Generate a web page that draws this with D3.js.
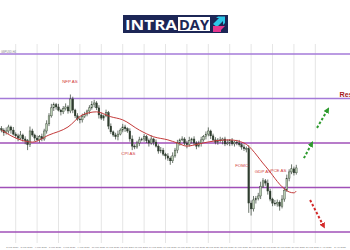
<!DOCTYPE html>
<html>
<head>
<meta charset="utf-8">
<script src="https://d3js.org/d3.v7.min.js"></script>
<style>
  body { margin: 0; background: #fff; }
  svg { display: block; }
</style>
</head>
<body>
<script>
// H4 candles, open = previous close
var firstOpen = 1.3832;
var closes = [1.3829,1.3823,1.3827,1.3836,1.3829,1.3820,1.3816,1.3811,1.3818,1.3809,
  1.3805,1.3796,1.3827,1.3818,1.3811,1.3807,1.3814,1.3809,1.3827,1.3843,
  1.3861,1.3879,1.3886,1.3881,1.3874,1.3870,1.3877,1.3881,1.3872,1.3899,
  1.3874,1.3861,1.3854,1.3852,1.3859,1.3865,1.3872,1.3879,1.3886,1.3890,
  1.3879,1.3863,1.3856,1.3861,1.3868,1.3838,1.3825,1.3818,1.3814,1.3820,
  1.3829,1.3836,1.3832,1.3827,1.3809,1.3793,1.3791,1.3800,1.3807,1.3809,
  1.3814,1.3805,1.3800,1.3809,1.3802,1.3793,1.3782,1.3784,1.3775,1.3771,
  1.3766,1.3760,1.3771,1.3784,1.3800,1.3807,1.3809,1.3800,1.3796,1.3805,
  1.3809,1.3800,1.3793,1.3800,1.3807,1.3814,1.3820,1.3827,1.3816,1.3807,
  1.3802,1.3807,1.3805,1.3809,1.3798,1.3800,1.3805,1.3798,1.3802,1.3800,
  1.3796,1.3791,1.3787,1.3787,1.3665,1.3652,1.3672,1.3676,1.3681,1.3703,
  1.3715,1.3710,1.3692,1.3674,1.3665,1.3663,1.3667,1.3658,1.3674,1.3694,
  1.3721,1.3735,1.3742,1.3733,1.3744];
// wick lengths in pips above / below the body
var wickUp = [6,4,8,5,3,7,4,5,9,3, 6,4,10,5,3,6,4,7,5,8, 6,9,5,4,7,3,6,8,4,10,
  5,3,6,4,7,5,3,6,8,7, 4,6,5,3,7,4,6,3,5,8, 4,7,5,3,6,8,4,5,7,3,
  6,4,5,8,3,6,4,7,5,3, 6,4,8,5,7,3,6,4,5,9, 3,6,4,5,7,4,6,8,3,5,
  6,4,7,3,5,8,4,6,3,5, 7,4,6,5,8,6,9,5,7,10, 6,4,8,5,3,7,6,4,9,5, 8,6,10,5,7];
var wickDn = [5,7,4,6,8,3,5,7,4,6, 8,12,5,4,7,3,6,5,4,6, 5,4,7,6,3,8,5,4,6,5,
  7,5,4,8,6,3,5,7,4,6, 5,8,4,6,3,7,5,4,6,8, 3,5,7,4,6,9,5,4,7,3,
  6,5,8,4,7,3,6,5,4,8, 6,9,5,4,7,6,3,5,8,4, 6,5,7,3,8,4,6,5,7,3,
  5,6,4,8,5,3,7,4,6,5, 4,6,5,8,22,15,6,8,5,7, 4,6,8,5,7,4,6,10,5,6, 4,7,5,6,4];

// moving average, sampled at candle indexes
var maIdx = [0,8,13,20,28,34,40,46,51,58,64,70,74,78,83,90,96,102,111,119,121,123,124];
var maVal = [1.3829,1.3807,1.3802,1.3818,1.3836,1.3863,1.3870,1.3859,1.3852,1.3829,1.3814,1.3807,
  1.3800,1.3793,1.3798,1.3805,1.3807,1.3800,1.3748,1.3697,1.3690,1.3688,1.3692];

// horizontal levels
var levels = [1.40, 1.39, 1.38, 1.37, 1.36];

// news events
var eventNames = ["NFP AS", "CPI AS", "FOMC", "GDP AS", "PCE AS"];
var eventIdx = [28.8, 53.4, 101, 110, 116.5];
var eventPrice = [1.3934, 1.3774, 1.3745, 1.3732, 1.3734];

// projected moves
var arrowFrom = [[132.7, 1.3834], [127.2, 1.3766], [129.8, 1.3672]];
var arrowTo = [[136.9, 1.3872], [130.2, 1.3796], [135.2, 1.3616]];
var arrowColor = ["#2e9b2e", "#2e9b2e", "#d42a2a"];

// time axis
var gridEvery = 9, gridStart = 6, gridEnd = 132;
var dateLabels = ["2 Mar 2021","3 Mar 2021","4 Mar 2021","5 Mar 2021","8 Mar 2021","9 Mar 2021",
  "10 Mar 2021","11 Mar 2021","12 Mar 2021","15 Mar 2021","16 Mar 2021","17 Mar 2021","18 Mar 2021",
  "19 Mar 2021","22 Mar 2021","23 Mar 2021","24 Mar 2021","25 Mar 2021","26 Mar 2021","29 Mar 2021",
  "30 Mar 2021","31 Mar 2021","1 Apr 2021","2 Apr 2021"];

var width = 350, height = 250;
var svg = d3.select("body").append("svg")
    .attr("width", width)
    .attr("height", height);

var x = d3.scaleLinear().domain([0, 124]).range([1.43, 1.43 + 124 * 2.378]);
var y = d3.scaleLinear().domain([1.36, 1.40]).range([232, 54]);

// ---- logo ----
var logo = svg.append("g");
logo.append("rect").attr("x", 123).attr("y", 15).attr("width", 105).attr("height", 18).attr("fill", "#1c2656");
logo.append("rect").attr("x", 178).attr("y", 17).attr("width", 32).attr("height", 14).attr("fill", "#fff");
logo.append("text").attr("x", 125).attr("y", 29.5).text("INTRA")
    .attr("font-family", "Open Sans, DejaVu Sans, sans-serif").attr("font-weight", "bold")
    .attr("font-size", 13.5).attr("fill", "#fff").attr("textLength", 52).attr("lengthAdjust", "spacingAndGlyphs");
logo.append("text").attr("x", 179).attr("y", 29.5).text("DAY")
    .attr("font-family", "Open Sans, DejaVu Sans, sans-serif").attr("font-weight", "bold")
    .attr("font-size", 13.5).attr("fill", "#1c2656").attr("textLength", 30).attr("lengthAdjust", "spacingAndGlyphs");
logo.append("path").attr("d", "M213,24 L219,18 L216,18 L218,16.5 L225,16.5 L225,23 L223,25 L223,21 L217,27 Z").attr("fill", "#2cc6e8");
logo.append("path").attr("d", "M213,26 L219,26 L225,26 L221,30 L221,32 L213,32 Z").attr("fill", "#e5368e");

// ---- grid ----
var gridIdx = d3.range(gridStart, gridEnd + 1, gridEvery);
svg.append("g").selectAll("line")
    .data(gridIdx)
    .enter()
    .append("line")
    .attr("x1", function (d) { return x(d); })
    .attr("x2", function (d) { return x(d); })
    .attr("y1", 44)
    .attr("y2", 243)
    .attr("stroke", "#d4d4d4")
    .attr("stroke-width", 0.6);

svg.append("text").attr("x", 1).attr("y", 52.5).text("GBPUSD,H4")
    .attr("font-family", "Arial, sans-serif").attr("font-size", 2.6).attr("fill", "#888");

svg.append("g").selectAll("line")
    .data(levels)
    .enter()
    .append("line")
    .attr("x1", 0)
    .attr("x2", width)
    .attr("y1", function (d) { return y(d); })
    .attr("y2", function (d) { return y(d); })
    .attr("stroke", function (d, i) { return i < 2 ? "#a47ad8" : "#a050b8"; })
    .attr("stroke-width", 1.5);

// date labels
svg.append("g").selectAll("text")
    .data(dateLabels)
    .enter()
    .append("text")
    .attr("x", function (d, i) { return x(2 + i * 6); })
    .attr("y", 247.5)
    .text(function (d) { return d; })
    .attr("font-family", "Arial, sans-serif")
    .attr("font-size", 2.4)
    .attr("fill", "#777");

// ---- candles ----
var candles = closes.map(function (c, i) {
    var o = i === 0 ? firstOpen : closes[i - 1];
    return {
        i: i, o: o, c: c,
        h: Math.max(o, c) + wickUp[i] * 0.0001,
        l: Math.min(o, c) - wickDn[i] * 0.0001
    };
});

var cg = svg.append("g").selectAll("g")
    .data(candles)
    .enter()
    .append("g");

cg.append("line")
    .attr("x1", function (d) { return x(d.i); })
    .attr("x2", function (d) { return x(d.i); })
    .attr("y1", function (d) { return y(d.h); })
    .attr("y2", function (d) { return y(d.l); })
    .attr("stroke", "#2f3d2f")
    .attr("stroke-width", 0.7);

cg.append("rect")
    .attr("x", function (d) { return x(d.i) - 0.85; })
    .attr("width", 1.7)
    .attr("y", function (d) { return y(Math.max(d.o, d.c)); })
    .attr("height", function (d) { return Math.max(0.6, Math.abs(y(d.o) - y(d.c))); })
    .attr("fill", function (d) { return d.c >= d.o ? "#b9cdb2" : "#2f3d2f"; })
    .attr("stroke", "#2f3d2f")
    .attr("stroke-width", 0.4);

// ---- moving average ----
var ma = maIdx.map(function (d, i) { return [d, maVal[i]]; });
svg.append("path")
    .datum(ma)
    .attr("d", d3.line()
        .x(function (d) { return x(d[0]); })
        .y(function (d) { return y(d[1]); })
        .curve(d3.curveMonotoneX))
    .attr("fill", "none")
    .attr("stroke", "#c43a3a")
    .attr("stroke-width", 1);

// ---- event labels ----
svg.append("g").selectAll("text")
    .data(eventNames)
    .enter()
    .append("text")
    .attr("x", function (d, i) { return x(eventIdx[i]); })
    .attr("y", function (d, i) { return y(eventPrice[i]); })
    .attr("text-anchor", "middle")
    .text(function (d) { return d; })
    .attr("font-family", "Arial, sans-serif")
    .attr("font-size", 4.4)
    .attr("fill", "#d23c3c");

// ---- arrows ----
var defs = svg.append("defs");
arrowColor.forEach(function (c, i) {
    defs.append("marker")
        .attr("id", "ah" + i)
        .attr("markerUnits", "userSpaceOnUse")
        .attr("viewBox", "0 0 10 10")
        .attr("refX", 3)
        .attr("refY", 5)
        .attr("markerWidth", 6)
        .attr("markerHeight", 6)
        .attr("orient", "auto")
        .append("path")
        .attr("d", "M0,0 L10,5 L0,10 Z")
        .attr("fill", c);
});

svg.append("g").selectAll("line")
    .data(arrowFrom)
    .enter()
    .append("line")
    .attr("x1", function (d) { return x(d[0]); })
    .attr("y1", function (d) { return y(d[1]); })
    .attr("x2", function (d, i) { return x(arrowTo[i][0]); })
    .attr("y2", function (d, i) { return y(arrowTo[i][1]); })
    .attr("stroke", function (d, i) { return arrowColor[i]; })
    .attr("stroke-width", 2)
    .attr("stroke-dasharray", "2.5,2")
    .attr("marker-end", function (d, i) { return "url(#ah" + i + ")"; });

// label runs past the right edge, as in the source image
svg.append("text")
    .attr("x", 339.5)
    .attr("y", y(1.3904))
    .text("Resistance")
    .attr("font-family", "Arial, sans-serif")
    .attr("font-weight", "bold")
    .attr("font-size", 7.2)
    .attr("fill", "#a51c1c");
</script>
</body>
</html>
